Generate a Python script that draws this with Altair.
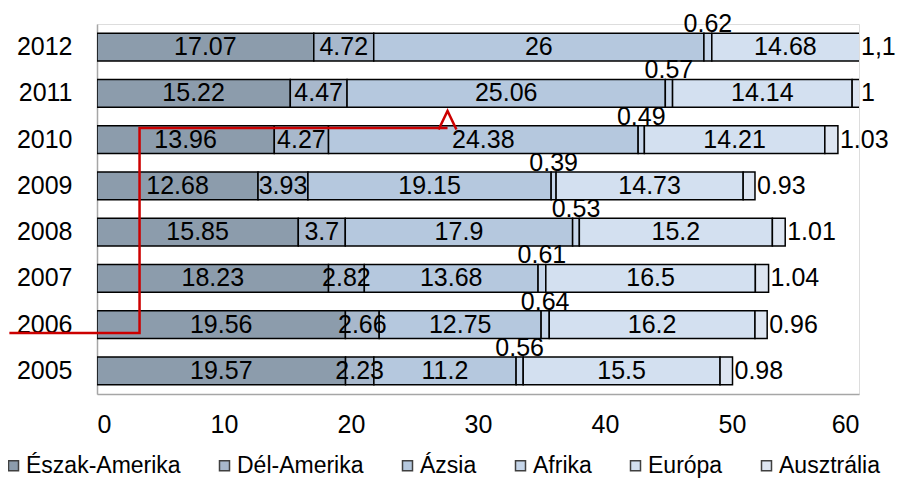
import altair as alt
import pandas as pd

years = ["2005", "2006", "2007", "2008", "2009", "2010", "2011", "2012"]
series = ["Észak-Amerika", "Dél-Amerika", "Ázsia", "Afrika", "Európa", "Ausztrália"]
colors = ["#8C9CAC", "#A8B8CC", "#B5C8DE", "#C6D6EA", "#D3E0F0", "#DDE5F1"]

north = [19.57, 19.56, 18.23, 15.85, 12.68, 13.96, 15.22, 17.07]
south = [2.23, 2.66, 2.82, 3.7, 3.93, 4.27, 4.47, 4.72]
asia = [11.2, 12.75, 13.68, 17.9, 19.15, 24.38, 25.06, 26]
africa = [0.56, 0.64, 0.61, 0.53, 0.39, 0.49, 0.57, 0.62]
europe = [15.5, 16.2, 16.5, 15.2, 14.73, 14.21, 14.14, 14.68]
aus = [0.98, 0.96, 1.04, 1.01, 0.93, 1.03, 1.0, 1.1]
aus_labels = ["0.98", "0.96", "1.04", "1.01", "0.93", "1.03", "1", "1,1"]

x_ticks = [0, 10, 20, 30, 40, 50, 60]

# red annotation arrow (data units: x in axis units, y in row units from bottom)
ann_x = [-6.9, 3.35, 3.35, 27.6]
ann_y = [1.32, 1.32, 5.75, 5.75]
head_x = [26.9, 27.6, 28.3]
head_y = [5.72, 6.12, 5.72]

FONT = "Liberation Sans, Arial, sans-serif"

rows = []
all_vals = [north, south, asia, africa, europe, aus]
for i, (name, vals) in enumerate(zip(series, all_vals)):
    for j, (yr, v) in enumerate(zip(years, vals)):
        lab = aus_labels[j] if name == "Ausztrália" else f"{v:g}"
        rows.append({"year": yr, "series": name, "order": i, "value": v, "label": lab})
df = pd.DataFrame(rows)

ann_rows = []
for k, (ax, ay) in enumerate(zip(ann_x, ann_y)):
    ann_rows.append({"grp": "path", "k": k, "ax": ax, "ay": ay})
for k, (ax, ay) in enumerate(zip(head_x, head_y)):
    ann_rows.append({"grp": "head", "k": k, "ax": ax, "ay": ay})
ann_df = pd.DataFrame(ann_rows)

years_desc = years[::-1]

base = alt.Chart(df).transform_stack(
    stack="value", groupby=["year"], as_=["x0", "x1"],
    sort=[alt.SortField("order", order="ascending")]
).transform_calculate(
    c0="min(datum.x0, 60)", c1="min(datum.x1, 60)",
    mid="(min(datum.x0, 60) + min(datum.x1, 60)) / 2"
)

yband = alt.Scale(paddingInner=0.395, paddingOuter=0.1975)
xscale = alt.Scale(domain=[0, 60], nice=False, zero=False)

bars = base.mark_bar(stroke="black", strokeWidth=1.5, clip=True).encode(
    x=alt.X("x0:Q", scale=xscale,
            axis=alt.Axis(values=x_ticks, title=None, grid=False, ticks=False,
                          labelPadding=18, labelFontSize=25, labelFont=FONT,
                          labelColor="black", domainColor="#A6A6A6", domainWidth=1.5)),
    x2="x1:Q",
    y=alt.Y("year:N", sort=years_desc, scale=yband,
            axis=alt.Axis(title=None, ticks=False, labelPadding=25, labelFontSize=25,
                          labelFont=FONT, labelColor="black",
                          domainColor="#A6A6A6", domainWidth=1.5)),
    color=alt.Color("series:N", scale=alt.Scale(domain=series, range=colors),
                    legend=alt.Legend(title=None, orient="none", direction="horizontal",
                                      legendX=-95, legendY=430, symbolType="square",
                                      symbolSize=100, symbolStrokeColor="#404040",
                                      symbolStrokeWidth=1.5, labelFontSize=23,
                                      labelFont=FONT, labelColor="black", labelOffset=1,
                                      labelLimit=400, columnPadding=32, padding=0)),
)

mid_labels = base.transform_filter(
    alt.FieldOneOfPredicate(field="series", oneOf=["Észak-Amerika", "Dél-Amerika", "Ázsia", "Európa"])
).mark_text(fontSize=25, font=FONT, color="black").encode(
    x=alt.X("mid:Q", scale=xscale),
    y=alt.Y("year:N", sort=years_desc, scale=yband),
    text="label:N",
)

afr_labels = base.transform_filter(
    alt.datum.series == "Afrika"
).mark_text(fontSize=25, font=FONT, color="black", dy=-23).encode(
    x=alt.X("mid:Q", scale=xscale),
    y=alt.Y("year:N", sort=years_desc, scale=yband),
    text="label:N",
)

aus_text = base.transform_filter(
    alt.datum.series == "Ausztrália"
).mark_text(fontSize=25, font=FONT, color="black", align="left", dx=2).encode(
    x=alt.X("c1:Q", scale=xscale),
    y=alt.Y("year:N", sort=years_desc, scale=yband),
    text="label:N",
)

inner = alt.layer(bars, mid_labels, afr_labels, aus_text)

ann = alt.Chart(ann_df).mark_line(color="#CC0000", strokeWidth=2.5).encode(
    x=alt.X("ax:Q", scale=xscale),
    y=alt.Y("ay:Q", scale=alt.Scale(domain=[0, 8], nice=False, zero=False), axis=None),
    detail="grp:N",
    order="k:Q",
)

chart = alt.layer(inner, ann).resolve_scale(y="independent").properties(
    width=762, height=370,
    autosize=alt.AutoSizeParams(type="none"),
    padding={"left": 89, "top": 16, "right": 37, "bottom": 84},
).configure_view(stroke=None).configure(background="white")

chart.save("out.html", embed_options={"renderer": "svg", "actions": False})
